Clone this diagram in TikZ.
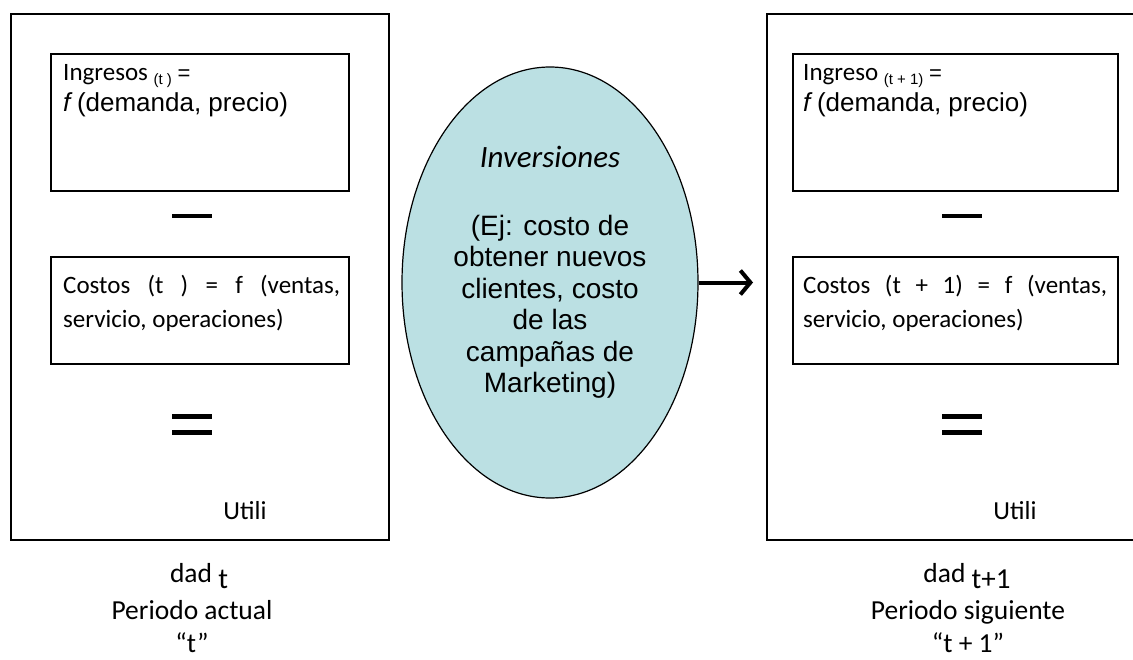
\documentclass[tikz,border=0pt]{standalone}
\usepackage{fontspec}
\setmainfont{Carlito}
\newfontfamily\arial{Liberation Sans}
\usetikzlibrary{arrows.meta,shapes.geometric}
\definecolor{ellfill}{HTML}{BBE0E3}
\begin{document}
\begin{tikzpicture}[x=1pt,y=-1pt,
  font=\fontsize{25}{30}\selectfont,
  outerbox/.style={draw,line width=1.8pt,anchor=north west,inner sep=0pt,minimum height=526pt},
  innerbox/.style={draw,line width=1.6pt,anchor=north west,inner sep=0pt},
  bar/.style={fill=black},
  txt/.style={inner sep=0pt,anchor=base west},
  ctxt/.style={inner sep=0pt,anchor=base},
  ariallarge/.style={font=\arial\fontsize{26}{30}\selectfont},
  caption/.style={ctxt,font=\fontsize{27.5}{30}\selectfont},
  elltxt/.style={ctxt,font=\arial\fontsize{28}{31.5}\selectfont},
]
\useasboundingbox (0,0) rectangle (1133,659);
\clip (0,0) rectangle (1133,659);

% outer boxes
\node[outerbox,minimum width=378pt] (L) at (10,13) {};
\node[outerbox,minimum width=385pt] (R) at (766,13) {};

% inner boxes
\node[innerbox,minimum width=298pt,minimum height=137pt] (L1) at (50,53) {};
\node[innerbox,minimum width=298pt,minimum height=107pt] (L2) at (50,256) {};
\node[innerbox,minimum width=325pt,minimum height=137pt] (R1) at (792,53) {};
\node[innerbox,minimum width=325pt,minimum height=107pt] (R2) at (792,256) {};

% texts left
\node[txt] (l1a) at (63,80) {Ingresos {\arial\fontsize{15}{15}\selectfont\raisebox{-4pt}{(t )}} {\arial\fontsize{22}{22}\selectfont =}};
\node[txt,ariallarge] (l1b) at (63,111) {\textit{f}\,(demanda, precio)};
\node[txt] (l2a) at (63,293) {\makebox[277pt][s]{Costos (t ) = f (ventas,}};
\node[txt] (l2b) at (63,327) {servicio, operaciones)};

% texts right
\node[txt] (r1a) at (803,80) {Ingreso {\arial\fontsize{15}{15}\selectfont\raisebox{-4pt}{(t + 1)}} {\arial\fontsize{22}{22}\selectfont =}};
\node[txt,ariallarge] (r1b) at (803,111) {\textit{f}\,(demanda, precio)};
\node[txt] (r2a) at (803,293) {\makebox[304pt][s]{Costos (t + 1) = f (ventas,}};
\node[txt] (r2b) at (803,327) {servicio, operaciones)};

% minus and equals
\fill[bar] (172,214) rectangle (212,218);
\fill[bar] (172,414) rectangle (212,419);
\fill[bar] (172,430) rectangle (212,435);
\fill[bar] (942,214) rectangle (982,218);
\fill[bar] (942,414) rectangle (982,419);
\fill[bar] (942,430) rectangle (982,435);

% Utili
\node[ctxt,font=\fontsize{26}{30}\selectfont] (ul) at (245,519) {Utili};
\node[ctxt,font=\fontsize{26}{30}\selectfont] (ur) at (1015,519) {Utili};

% bottom captions
\node[caption] (dl) at (199,582) {dad \raisebox{-6pt}{\fontsize{29}{29}\selectfont t}};
\node[caption] (pl) at (192,619) {Periodo actual};
\node[caption] (ql) at (192,652) {“t”};
\node[caption] (dr) at (967,582) {dad \raisebox{-6pt}{\fontsize{29}{29}\selectfont t+1}};
\node[caption] (pr) at (968,619) {Periodo siguiente};
\node[caption] (qr) at (968,652) {“t + 1”};

% ellipse
\node[draw,line width=1.2pt,fill=ellfill,ellipse,inner sep=0pt,minimum width=296pt,minimum height=431pt] (E) at (550,282.5) {};
\node[ctxt,font=\fontsize{31}{31}\selectfont\itshape] (e1) at (550,167) {Inversiones};
\node[elltxt] (e2) at (550,235) {(Ej: costo de};
\node[elltxt] (e3) at (550,266.5) {obtener nuevos};
\node[elltxt] (e4) at (550,298) {clientes, costo};
\node[elltxt] (e5) at (550,329.5) {de las};
\node[elltxt] (e6) at (550,361) {campañas de};
\node[elltxt] (e7) at (550,392.5) {Marketing)};

% arrow
\coordinate (aend) at (753,282.5);
\draw[line width=4pt,-{Straight Barb[length=10pt,width=24pt]}] (E.east) -- (aend);
\end{tikzpicture}
\end{document}
